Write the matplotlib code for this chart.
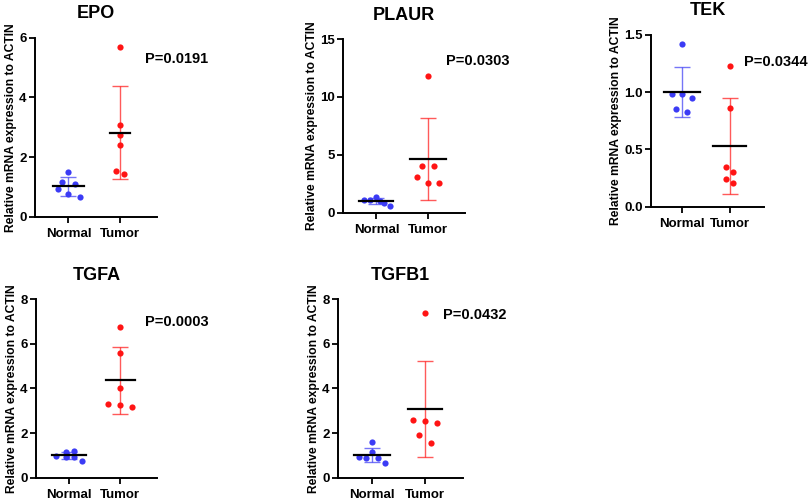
import matplotlib.pyplot as plt
import numpy as np

plt.rcParams['font.family'] = ['Liberation Sans', 'DejaVu Sans']
plt.rcParams['font.weight'] = 'bold'

genes = ['EPO', 'PLAUR', 'TEK', 'TGFA', 'TGFB1']
p_values = ['P=0.0191', 'P=0.0303', 'P=0.0344', 'P=0.0003', 'P=0.0432']
groups = ['Normal', 'Tumor']

# point values (normal, tumor)
epo_normal = [1.49, 1.17, 1.09, 0.92, 0.75, 0.66]
epo_tumor = [5.69, 3.09, 2.73, 2.41, 1.54, 1.44]
plaur_normal = [1.10, 1.10, 1.38, 0.98, 0.86, 0.61]
plaur_tumor = [11.79, 4.0, 4.0, 3.08, 2.59, 2.54]
tek_normal = [1.42, 0.98, 0.98, 0.945, 0.85, 0.83]
tek_tumor = [1.23, 0.86, 0.35, 0.30, 0.24, 0.21]
tgfa_normal = [0.985, 1.16, 1.21, 0.94, 0.94, 0.75]
tgfa_tumor = [6.73, 5.6, 4.03, 3.31, 3.27, 3.18]
tgfb1_normal = [1.58, 1.13, 0.94, 0.90, 0.90, 0.67]
tgfb1_tumor = [7.39, 2.58, 2.54, 2.43, 1.93, 1.57]

# horizontal jitter of the dots as seen in the picture
epo_jit_n = [0.0, -0.12, 0.13, -0.21, 0.0, 0.22]
epo_jit_t = [0.0, 0.0, 0.0, 0.0, -0.08, 0.07]
plaur_jit_n = [-0.25, -0.12, 0.0, 0.07, 0.15, 0.27]
plaur_jit_t = [0.0, -0.11, 0.11, -0.22, 0.0, 0.22]
tek_jit_n = [0.0, -0.22, 0.0, 0.21, -0.12, 0.1]
tek_jit_t = [0.0, 0.0, -0.07, 0.06, -0.07, 0.06]
tgfa_jit_n = [-0.25, -0.07, 0.1, -0.07, 0.1, 0.26]
tgfa_jit_t = [0.0, 0.0, 0.0, -0.23, 0.0, 0.23]
tgfb1_jit_n = [0.0, 0.0, -0.26, -0.11, 0.1, 0.25]
tgfb1_jit_t = [0.0, -0.22, 0.0, 0.22, -0.11, 0.11]

normals = [epo_normal, plaur_normal, tek_normal, tgfa_normal, tgfb1_normal]
tumors = [epo_tumor, plaur_tumor, tek_tumor, tgfa_tumor, tgfb1_tumor]
jit_n = [epo_jit_n, plaur_jit_n, tek_jit_n, tgfa_jit_n, tgfb1_jit_n]
jit_t = [epo_jit_t, plaur_jit_t, tek_jit_t, tgfa_jit_t, tgfb1_jit_t]

ylims = [6, 15, 1.5, 8, 8]
yticks = [[0, 2, 4, 6], [0, 5, 10, 15], [0.0, 0.5, 1.0, 1.5], [0, 2, 4, 6, 8], [0, 2, 4, 6, 8]]

# half widths of the mean lines (normal, tumor)
mean_half = [(0.3, 0.2), (0.33, 0.35), (0.38, 0.34), (0.33, 0.28), (0.34, 0.33)]

# axes boxes in pixels: left, right, top, bottom
boxes = [(35, 157, 37.7, 216.7), (343, 465, 39, 212.7), (651, 764, 34.7, 206.7),
         (36, 157, 299, 477.7), (338, 463, 299, 477.7)]
p_pos = [(1.49, 5.3), (1.35, 13.1), (1.3, 1.26), (1.49, 6.95), (1.35, 7.3)]

W, H = 809, 501
fig = plt.figure(figsize=(W / 100, H / 100), dpi=100)
blue = '#3b3bf5'
red = '#ff1414'

for i, g in enumerate(genes):
    l, r, t, b = boxes[i]
    ax = fig.add_axes([l / W, 1 - b / H, (r - l) / W, (b - t) / H])
    for k, (vals, jit, c) in enumerate([(normals[i], jit_n[i], blue), (tumors[i], jit_t[i], red)]):
        vals = np.array(vals)
        m = vals.mean()
        sd = vals.std(ddof=1)
        hw = mean_half[i][k]
        ax.errorbar(k, m, yerr=sd, fmt='none', ecolor=c, alpha=0.7, elinewidth=1.0,
                    capsize=6, capthick=1.0, zorder=2)
        ax.scatter(k + np.array(jit), vals, s=20, color=c, zorder=3, linewidths=0)
        ax.plot([k - hw, k + hw], [m, m], color='black', lw=1.6, zorder=4)
    ax.set_xlim(-0.65, 1.72)
    ax.set_ylim(0, ylims[i])
    ax.set_yticks(yticks[i])
    if i == 2:
        ax.set_yticklabels(['0.0', '0.5', '1.0', '1.5'])
    ax.set_xticks([0, 1])
    ax.set_xticklabels(groups, fontsize=11, fontweight='bold')
    ax.tick_params(axis='both', direction='out', length=4, width=1.3, labelsize=9.5)
    ax.tick_params(axis='y', pad=2)
    ax.tick_params(axis='x', pad=4)
    for lab in ax.get_yticklabels():
        lab.set_fontweight('bold')
    ax.spines['top'].set_visible(False)
    ax.spines['right'].set_visible(False)
    ax.spines['left'].set_linewidth(1.4)
    ax.spines['bottom'].set_linewidth(1.4)
    ax.set_ylabel('Relative mRNA expression to ACTIN', fontsize=8.7, fontweight='bold', labelpad=1.5)
    ax.set_title(g, fontsize=13, fontweight='bold', pad=14)
    ax.text(p_pos[i][0], p_pos[i][1], p_values[i], fontsize=10.5, fontweight='bold',
            ha='left', va='center', clip_on=False)

fig.savefig('out.png', dpi=100)
